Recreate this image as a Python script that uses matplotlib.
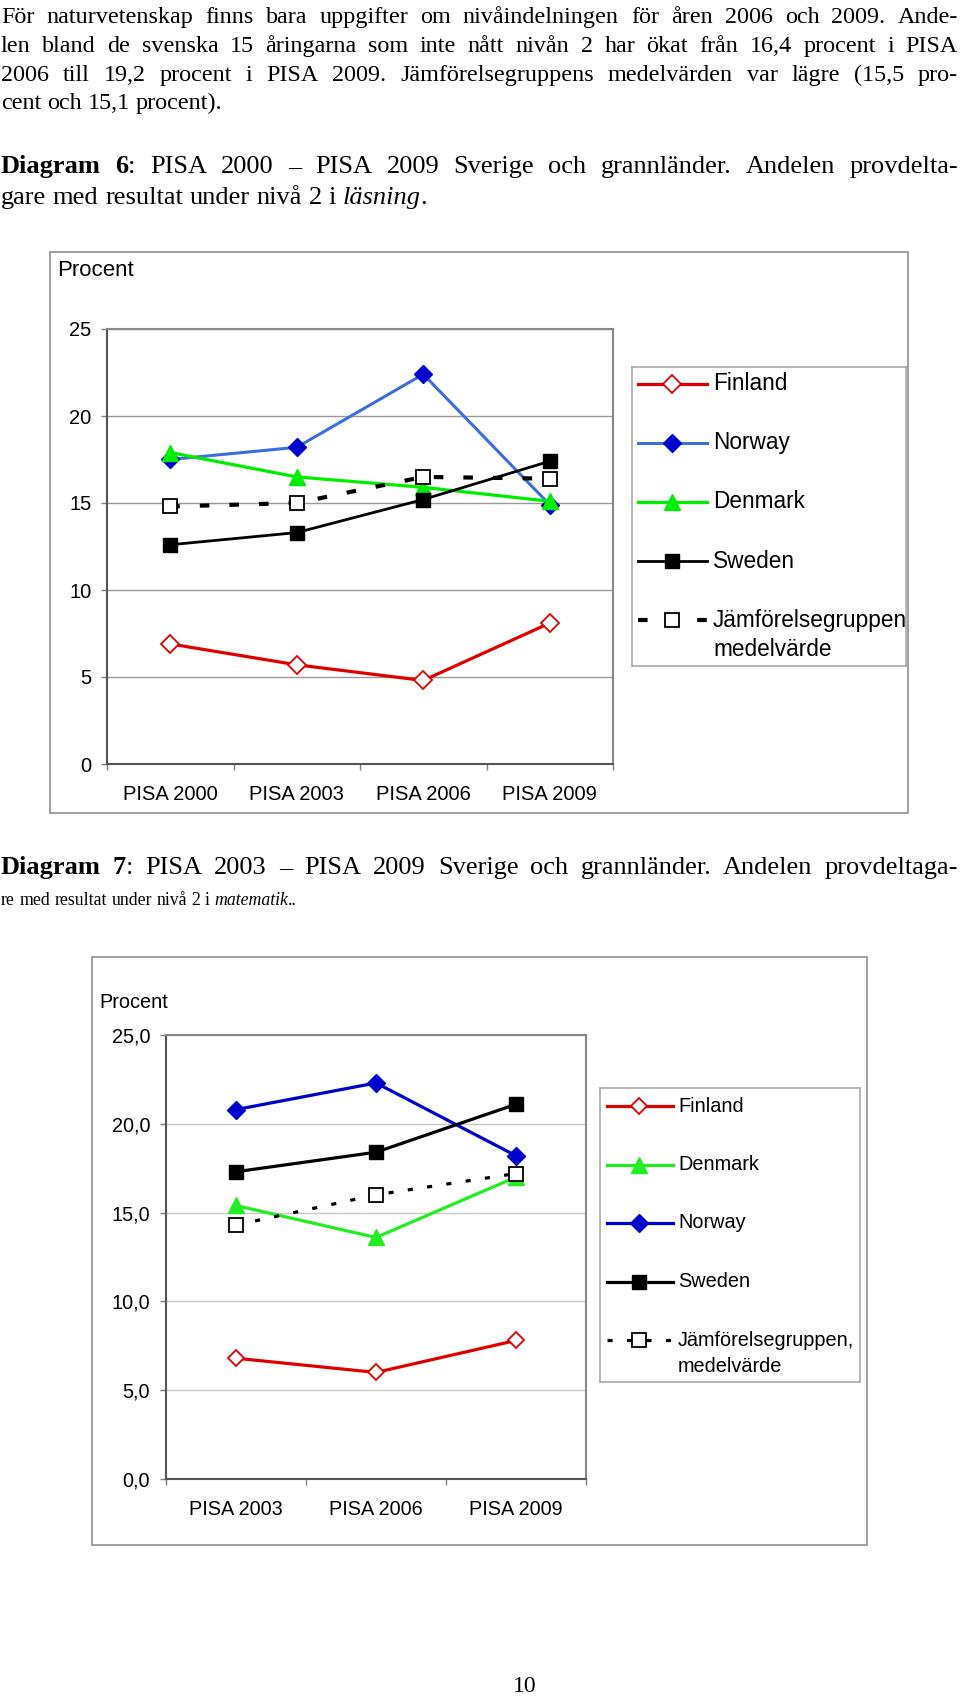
import re
import matplotlib
matplotlib.use("Agg")
import matplotlib.pyplot as plt
from matplotlib.patches import Rectangle
from matplotlib.ticker import FixedLocator, FuncFormatter, NullFormatter

W, H = 960, 1698

# --- text of the page ---
para_lines = [
    "För naturvetenskap finns bara uppgifter om nivåindelningen för åren 2006 och 2009. Ande-",
    "len bland de svenska 15 åringarna som inte nått nivån 2 har ökat från 16,4 procent i PISA",
    "2006 till 19,2 procent i PISA 2009. Jämförelsegruppens medelvärden var lägre (15,5 pro-",
    "cent och 15,1 procent).",
]
caption6 = [
    "**Diagram 6**: PISA 2000 – PISA 2009 Sverige och grannländer. Andelen provdelta-",
    "gare med resultat under nivå 2 i *läsning*.",
]
caption7 = [
    "**Diagram 7**: PISA 2003 – PISA 2009 Sverige och grannländer. Andelen provdeltaga-",
    "re med resultat under nivå 2 i *matematik*..",
]
page_no = "10"

# --- diagram 6: reading ---
read_cats = ["PISA 2000", "PISA 2003", "PISA 2006", "PISA 2009"]
read_finland = [6.9, 5.7, 4.8, 8.1]
read_norway = [17.5, 18.2, 22.4, 14.9]
read_denmark = [17.9, 16.5, 15.9, 15.1]
read_sweden = [12.6, 13.3, 15.2, 17.4]
read_group = [14.8, 15.0, 16.5, 16.4]
read_names = ["Finland", "Norway", "Denmark", "Sweden", "Jämförelsegruppen\nmedelvärde"]
read_yticks = [0, 5, 10, 15, 20, 25]

# --- diagram 7: mathematics ---
math_cats = ["PISA 2003", "PISA 2006", "PISA 2009"]
math_finland = [6.8, 6.0, 7.8]
math_denmark = [15.4, 13.6, 17.0]
math_norway = [20.8, 22.3, 18.2]
math_sweden = [17.3, 18.4, 21.1]
math_group = [14.3, 16.0, 17.2]
math_names = ["Finland", "Denmark", "Norway", "Sweden", "Jämförelsegruppen,\nmedelvärde"]
math_yticks = [0, 5, 10, 15, 20, 25]

plt.rcParams["font.family"] = ["Liberation Sans", "DejaVu Sans"]

fig = plt.figure(figsize=(W / 100, H / 100), dpi=100)
renderer = fig.canvas.get_renderer()


def rect(l, t, r, b):
    return [l / W, 1 - b / H, (r - l) / W, (b - t) / H]


def frame(l, t, r, b, color="#999999", lw=1.3):
    fig.add_artist(Rectangle((l / W, 1 - b / H), (r - l) / W, (b - t) / H,
                             transform=fig.transFigure, fill=False, ec=color, lw=lw))


# ---------- justified serif body text ----------
def parse_runs(markup):
    runs = []
    for part in re.split(r"(\*\*.+?\*\*|\*.+?\*)", markup):
        if not part:
            continue
        if part.startswith("**"):
            runs.append((part[2:-2], "bold", "normal"))
        elif part.startswith("*"):
            runs.append((part[1:-1], "normal", "italic"))
        else:
            runs.append((part, "normal", "normal"))
    return runs


def split_words(runs):
    words = [[]]
    for text, weight, style in runs:
        for i, chunk in enumerate(text.split(" ")):
            if i > 0:
                words.append([])
            if chunk:
                words[-1].append((chunk, weight, style))
    return [w for w in words if w]


def text_width(s, size, weight="normal", style="normal"):
    t = fig.text(0, 0, s, fontsize=size, family="Liberation Serif", weight=weight, style=style)
    w = t.get_window_extent(renderer).width
    t.remove()
    return w


def body_line(markup, baseline, size, justify=True, x0=1, x1=958):
    words = split_words(parse_runs(markup))
    widths = [[text_width(s, size, wt, st) for s, wt, st in word] for word in words]
    total = sum(sum(ws) for ws in widths)
    if justify and len(words) > 1:
        gap = (x1 - x0 - total) / (len(words) - 1)
    else:
        gap = text_width("a a", size) - text_width("aa", size)
    x = x0
    for word, ws in zip(words, widths):
        for (s, wt, st), w in zip(word, ws):
            fig.text(x / W, 1 - baseline / H, s, fontsize=size, family="Liberation Serif",
                     weight=wt, style=st, ha="left", va="baseline")
            x += w
        x += gap


body_size = 17.4
cap_size = 19
for i, line in enumerate(para_lines):
    body_line(line, 23 + i * 28.8, body_size, justify=i < len(para_lines) - 1)
body_line(caption6[0], 173, cap_size)
body_line(caption6[1], 204, cap_size, justify=False)
body_line(caption7[0], 874, cap_size)
body_line(caption7[1], 905, 12.8, justify=False)
fig.text(525 / W, 1 - 1687 / H, page_no, fontsize=17, family="Liberation Serif",
         ha="center", va="center")


# ---------- charts ----------
def line_chart(box, cats, series, yticks, fmt, size, grid_color, xpad, ypad):
    ax = fig.add_axes(rect(*box))
    x = list(range(len(cats)))
    for values, style in series:
        ax.plot(x, values, **style)
    ax.set_xlim(-0.5, len(cats) - 0.5)
    ax.set_ylim(yticks[0], yticks[-1])
    ax.set_yticks(yticks)
    ax.yaxis.set_major_formatter(FuncFormatter(fmt))
    ax.xaxis.set_major_locator(FixedLocator([i - 0.5 for i in range(len(cats) + 1)]))
    ax.xaxis.set_major_formatter(NullFormatter())
    ax.xaxis.set_minor_locator(FixedLocator(x))
    ax.set_xticklabels(cats, minor=True)
    ax.tick_params(axis="x", which="major", direction="out", length=4.5, color="#808080", width=1)
    ax.tick_params(axis="x", which="minor", length=0, pad=xpad, labelsize=size)
    ax.tick_params(axis="y", direction="out", length=4.5, color="#808080", width=1,
                   pad=ypad, labelsize=size)
    ax.grid(axis="y", color=grid_color, lw=1)
    ax.set_axisbelow(True)
    for side in ["top", "right"]:
        ax.spines[side].set_color("#888888")
        ax.spines[side].set_linewidth(1.5)
    for side in ["left", "bottom"]:
        ax.spines[side].set_color("#555555")
        ax.spines[side].set_linewidth(1.5)
    return ax


def legend_box(box, names, styles, first_y, step, hx0, hx1, mx, tx, size, line_gap):
    l, t, r, b = box
    lg = fig.add_axes(rect(l, t, r, b))
    lg.set_xlim(l, r)
    lg.set_ylim(b, t)
    lg.set_xticks([])
    lg.set_yticks([])
    for sp in lg.spines.values():
        sp.set_color("#AAAAAA")
        sp.set_linewidth(1.2)
    for i, (name, style) in enumerate(zip(names, styles)):
        y = first_y + i * step
        line_style = {k: v for k, v in style.items() if not k.startswith("m")}
        mark_style = {k: v for k, v in style.items() if k.startswith("m")}
        lg.plot([hx0, hx1], [y, y], **line_style)
        lg.plot([mx], [y], ls="none", **mark_style)
        for k, part in enumerate(name.split("\n")):
            lg.text(tx, y + k * line_gap, part, fontsize=size, ha="left", va="center")


RED = "#E00000"
GREEN = "#00EE00"

read_styles = [
    dict(color=RED, lw=2.3, marker="D", ms=9, mfc="white", mec=RED, mew=1.3),
    dict(color="#3D6EE0", lw=2.2, marker="D", ms=9, mfc="#0000D0", mec="#0000D0", mew=1),
    dict(color=GREEN, lw=2.3, marker="^", ms=11, mfc=GREEN, mec=GREEN, mew=1),
    dict(color="black", lw=2.0, marker="s", ms=9.5, mfc="black", mec="black", mew=1),
    dict(color="black", lw=3.0, ls=(0, (2.3, 4.8)), marker="s", ms=10.5, mfc="white",
         mec="black", mew=1.3),
]
read_values = [read_finland, read_norway, read_denmark, read_sweden, read_group]

frame(50, 252, 908, 813)
line_chart((107, 329, 613, 764), read_cats, list(zip(read_values, read_styles)),
           read_yticks, lambda v, p: f"{v:.0f}", 14.5, "#999999", 15, 6.5)
fig.text(57 / W, 1 - 276 / H, "Procent", fontsize=16, ha="left", va="baseline")
legend_box((632, 367, 906, 666), read_names, read_styles, 384, 59, 638, 707, 672, 713, 16.3, 29)

math_styles = [
    dict(color=RED, lw=2.3, marker="D", ms=8.5, mfc="white", mec=RED, mew=1.3),
    dict(color="#22EE22", lw=2.3, marker="^", ms=11, mfc="#22EE22", mec="#22EE22", mew=1),
    dict(color="#0000CC", lw=2.3, marker="D", ms=9.5, mfc="#0000CC", mec="#0000CC", mew=1),
    dict(color="black", lw=2.3, marker="s", ms=10.5, mfc="black", mec="black", mew=1),
    dict(color="black", lw=2.3, ls=(0, (1.6, 4.5)), marker="s", ms=10.5, mfc="white",
         mec="black", mew=1.3),
]
math_values = [math_finland, math_denmark, math_norway, math_sweden, math_group]

frame(92, 957, 867, 1545)
line_chart((166, 1035, 586, 1479), math_cats, list(zip(math_values, math_styles)),
           math_yticks, lambda v, p: f"{v:.1f}".replace(".", ","), 14.3, "#C8C8C8", 15, 7)
fig.text(99 / W, 1 - 1008 / H, "Procent", fontsize=14.3, ha="left", va="baseline")
legend_box((600, 1088, 860, 1382), math_names, math_styles, 1106, 58.5, 607, 673, 639, 678,
           14.3, 27)

fig.savefig("out.png", dpi=100)
